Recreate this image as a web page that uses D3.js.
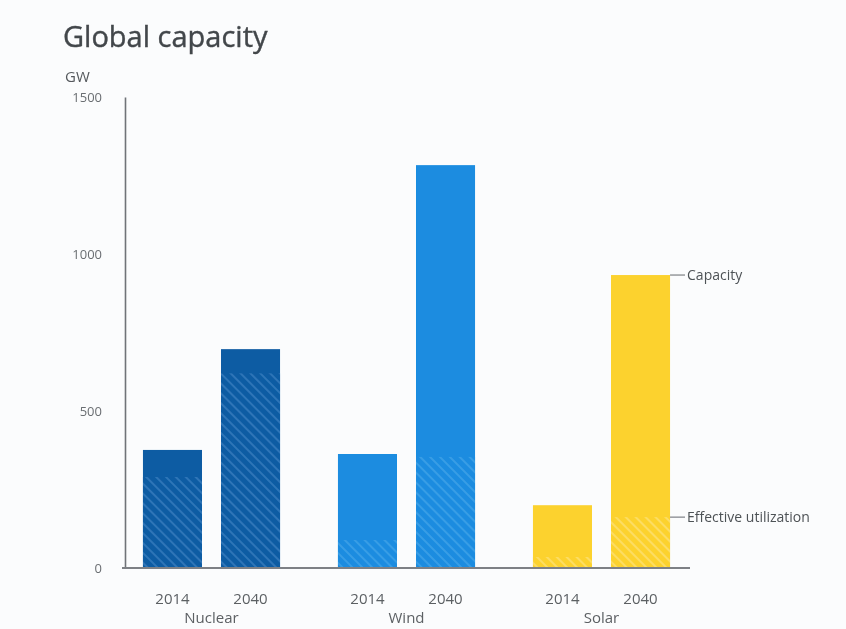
<!DOCTYPE html>
<html>
<head>
<meta charset="utf-8">
<script src="https://cdn.jsdelivr.net/npm/d3@7"></script>
<style>
  html, body { margin: 0; padding: 0; background: #fbfcfd; }
  svg { display: block; }
  text { font-family: "Open Sans", "Noto Sans", sans-serif; }
</style>
</head>
<body>
<script>
// Global generating capacity by technology, GW
const categories = ["Nuclear", "Wind", "Solar"];
const years = ["2014", "2040"];
const capacity = [
  [376, 697],   // Nuclear
  [363, 1283],  // Wind
  [200, 933]    // Solar
];
const effective = [
  [290, 620],
  [89, 354],
  [35, 162]
];
const yTicks = [0, 500, 1000, 1500];
const colors = ["#0e5ba3", "#1a8ce0", "#fcd22f"];
const hatchColors = ["#3a80c0", "#46a4e8", "#fde17a"];

const W = 846, H = 629;
const svg = d3.select("body").append("svg").attr("width", W).attr("height", H);

const defs = svg.append("defs");
defs.append("filter").attr("id", "soft")
  .append("feGaussianBlur").attr("stdDeviation", 0.6);

colors.forEach((c, i) => {
  const p = defs.append("pattern")
    .attr("id", "hatch" + i)
    .attr("patternUnits", "userSpaceOnUse")
    .attr("width", 7).attr("height", 7)
    .attr("patternTransform", "rotate(-45)");
  p.append("rect").attr("width", 7).attr("height", 7).attr("fill", c);
  p.append("rect").attr("x", 0).attr("width", 2).attr("height", 7)
    .attr("fill", hatchColors[i]).attr("opacity", 0.7);
});

const g = svg.append("g").attr("filter", "url(#soft)");

const y = d3.scaleLinear().domain([0, 1500]).range([568, 97]);
const x0 = d3.scaleBand().domain(categories).range([114, 699])
  .paddingInner(0.297).paddingOuter(0.1485);
const x1 = d3.scaleBand().domain(years).range([0, x0.bandwidth()])
  .paddingInner(0.2436).paddingOuter(0);

// Title
g.append("text").attr("x", 63).attr("y", 47)
  .attr("font-size", 29).attr("fill", "#43474b")
  .attr("stroke", "#43474b").attr("stroke-width", 0.4)
  .text("Global capacity");
g.append("text").attr("x", 65).attr("y", 82)
  .attr("font-size", 15).attr("fill", "#55595d").text("GW");

// Bars
categories.forEach((cat, ci) => {
  const grp = g.append("g").attr("transform", `translate(${x0(cat)},0)`);
  years.forEach((yr, yi) => {
    const bx = x1(yr), bw = x1.bandwidth();
    grp.append("rect")
      .attr("x", bx).attr("width", bw)
      .attr("y", y(capacity[ci][yi]))
      .attr("height", y(0) - y(capacity[ci][yi]))
      .attr("fill", colors[ci]);
    grp.append("rect")
      .attr("x", bx).attr("width", bw)
      .attr("y", y(effective[ci][yi]))
      .attr("height", y(0) - y(effective[ci][yi]))
      .attr("fill", `url(#hatch${ci})`);
    grp.append("text")
      .attr("x", bx + bw / 2).attr("y", 604)
      .attr("text-anchor", "middle").attr("font-size", 15)
      .attr("fill", "#5c6064").text(yr);
  });
  grp.append("text")
    .attr("x", x0.bandwidth() / 2).attr("y", 623)
    .attr("text-anchor", "middle").attr("font-size", 15)
    .attr("fill", "#5c6064").text(cat);
});

// Y axis
const yAxis = d3.axisLeft(y).tickValues(yTicks).tickFormat(d3.format("d"))
  .tickSize(0).tickPadding(23);
const ya = g.append("g").attr("transform", "translate(125,0)").call(yAxis);
ya.select(".domain").attr("stroke", "#6f7378").attr("stroke-width", 1.6);
ya.selectAll("text").attr("font-size", 13).attr("fill", "#6a6e72")
  .attr("font-family", "\"Open Sans\", sans-serif");

// Baseline
g.append("line").attr("x1", 122).attr("x2", 690)
  .attr("y1", y(0)).attr("y2", y(0))
  .attr("stroke", "#7d8085").attr("stroke-width", 1.8);

// Annotations on the last bar
const lastX = x0(categories[2]) + x1(years[1]) + x1.bandwidth();
const notes = [
  { v: capacity[2][1], label: "Capacity" },
  { v: effective[2][1], label: "Effective utilization" }
];
notes.forEach(n => {
  g.append("line").attr("x1", lastX).attr("x2", lastX + 15)
    .attr("y1", y(n.v)).attr("y2", y(n.v))
    .attr("stroke", "#7d8085").attr("stroke-width", 1.2);
  g.append("text").attr("x", lastX + 17).attr("y", y(n.v) + 5)
    .attr("font-size", 14).attr("fill", "#4e5256").text(n.label);
});
</script>
</body>
</html>
